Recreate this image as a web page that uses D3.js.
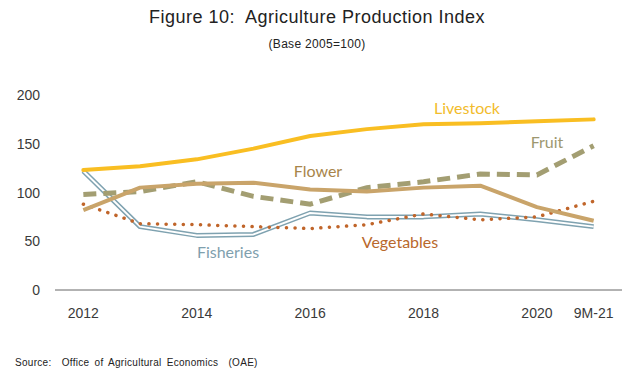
<!DOCTYPE html>
<html>
<head>
<meta charset="utf-8">
<script src="https://cdn.jsdelivr.net/npm/d3@7"></script>
<style>
  html, body { margin: 0; padding: 0; background: #fff; }
  svg { display: block; }
  text { white-space: pre; }
</style>
</head>
<body>
<div id="chart"></div>
<script>
/* Figure 10: Agriculture Production Index (Base 2005=100) */
var categories = ['2012', '2013', '2014', '2015', '2016', '2017', '2018', '2019', '2020', '9M-21'];
var tickLabels = ['2012', '2014', '2016', '2018', '2020', '9M-21'];
var yTicks = [0, 50, 100, 150, 200];

var livestock  = [123, 127, 134, 145, 158, 165, 170, 171, 173, 175];
var fruit      = [98, 101, 111, 96, 88, 105, 111, 119, 118, 148];
var flower     = [82, 105, 109, 110, 103, 101, 105, 107, 85, 71];
var vegetables = [88, 68, 67, 65, 63, 67, 78, 72, 75, 91];
var fisheries  = [122, 65, 56, 57, 79, 75, 75, 78, 72, 65];

(function () {
  'use strict';
  var W = 633, H = 377;
  var svg = d3.select('#chart').append('svg').attr('width', W).attr('height', H);

  var x = d3.scaleBand().domain(categories).range([55, 622]);
  var y = d3.scaleLinear().domain([0, 200]).range([290, 95]);
  function cx(d, i) { return x(categories[i]) + x.bandwidth() / 2; }
  var line = d3.line().x(cx).y(function (d) { return y(d); });
  var axisFont = 'Liberation Sans, Arial, sans-serif';

  /* Titles */
  svg.append('text').attr('x', 317).attr('y', 23).attr('text-anchor', 'middle')
    .style('font-family', axisFont).style('font-size', '18px').style('letter-spacing', '0.5px')
    .style('fill', '#222').text('Figure 10:  Agriculture Production Index');
  svg.append('text').attr('x', 317).attr('y', 48).attr('text-anchor', 'middle')
    .style('font-family', axisFont).style('font-size', '12px').style('letter-spacing', '0.3px')
    .style('fill', '#222').text('(Base 2005=100)');

  /* Y axis labels */
  svg.append('g').selectAll('text').data(yTicks).enter().append('text')
    .attr('x', 40).attr('y', function (d) { return y(d) + 5; })
    .attr('text-anchor', 'end')
    .style('font-family', axisFont).style('font-size', '14px')
    .style('fill', '#3a3a3a').text(function (d) { return d; });

  /* X axis */
  svg.append('line').attr('x1', x.range()[0]).attr('x2', x.range()[1])
    .attr('y1', y(0)).attr('y2', y(0)).attr('stroke', '#666').attr('stroke-width', 1);
  svg.append('g').selectAll('text').data(tickLabels).enter().append('text')
    .attr('x', function (d) { return x(d) + x.bandwidth() / 2; }).attr('y', 318)
    .attr('text-anchor', 'middle')
    .style('font-family', axisFont).style('font-size', '14px')
    .style('fill', '#3a3a3a').text(function (d) { return d; });

  var plot = svg.append('g');

  /* Fisheries: double line */
  plot.append('path').attr('d', line(fisheries)).attr('fill', 'none')
    .attr('stroke', '#7fa2b0').attr('stroke-width', 5).attr('stroke-linejoin', 'round');
  plot.append('path').attr('d', line(fisheries)).attr('fill', 'none')
    .attr('stroke', '#fff').attr('stroke-width', 2).attr('stroke-linejoin', 'round');

  /* Vegetables: dotted */
  plot.append('path').attr('d', line(vegetables)).attr('fill', 'none')
    .attr('stroke', '#c0652a').attr('stroke-width', 3.5).attr('stroke-linecap', 'round')
    .attr('stroke-dasharray', '0.1,8.5');

  /* Fruit: dashed */
  plot.append('path').attr('d', line(fruit)).attr('fill', 'none')
    .attr('stroke', '#a39e72').attr('stroke-width', 5)
    .attr('stroke-dasharray', '13,7');

  /* Flower */
  plot.append('path').attr('d', line(flower)).attr('fill', 'none')
    .attr('stroke', '#c9a46a').attr('stroke-width', 4).attr('stroke-linejoin', 'round');

  /* Livestock */
  plot.append('path').attr('d', line(livestock)).attr('fill', 'none')
    .attr('stroke', '#f9be22').attr('stroke-width', 4).attr('stroke-linecap', 'round')
    .attr('stroke-linejoin', 'round');

  /* Series labels */
  var labels = [
    { t: 'Livestock', x: 467, y: 114, c: '#f2bc2c' },
    { t: 'Fruit', x: 547, y: 148, c: '#9d9770' },
    { t: 'Flower', x: 318, y: 177, c: '#a8854a' },
    { t: 'Vegetables', x: 400, y: 248, c: '#b9682c' },
    { t: 'Fisheries', x: 228, y: 258, c: '#7fa0ae' }
  ];
  svg.append('g').selectAll('text').data(labels).enter().append('text')
    .attr('x', function (d) { return d.x; }).attr('y', function (d) { return d.y; })
    .attr('text-anchor', 'middle')
    .style('font-family', 'Lato, Carlito, sans-serif').style('font-size', '16px')
    .style('fill', function (d) { return d.c; }).text(function (d) { return d.t; });

  /* Source */
  svg.append('text').attr('x', 15).attr('y', 366)
    .style('font-family', axisFont).style('font-size', '10px').style('letter-spacing', '0.3px')
    .style('word-spacing', '2px')
    .style('fill', '#222').text('Source:  Office of Agricultural Economics  (OAE)');
})();
</script>
</body>
</html>
